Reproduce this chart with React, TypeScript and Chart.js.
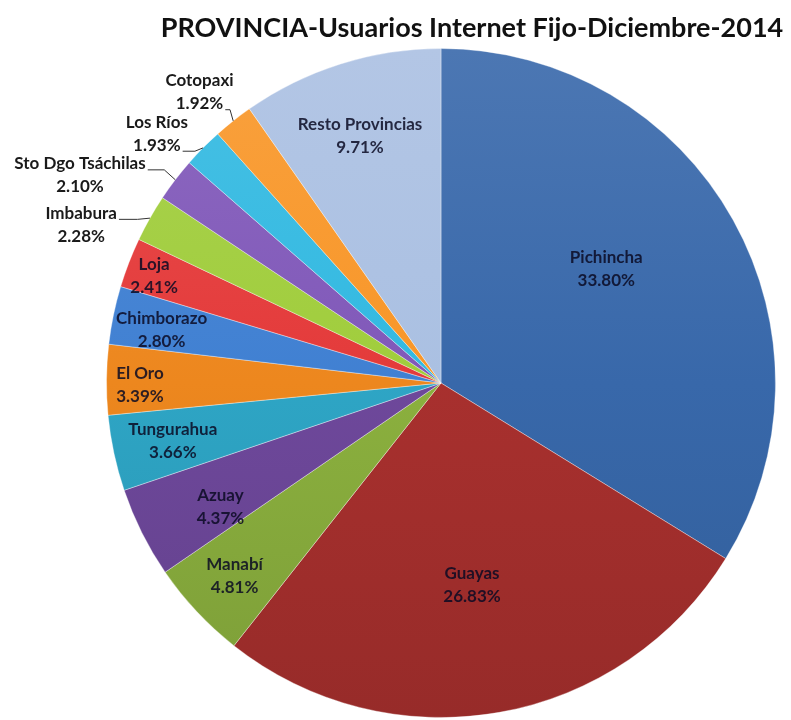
import React, { useEffect, useRef } from 'react';
import { Chart, registerables } from 'chart.js';

Chart.register(...registerables);

const TITLE = 'PROVINCIA-Usuarios Internet Fijo-Diciembre-2014';

const categories = [
  'Pichincha', 'Guayas', 'Manabí', 'Azuay', 'Tungurahua', 'El Oro', 'Chimborazo',
  'Loja', 'Imbabura', 'Sto Dgo Tsáchilas', 'Los Ríos', 'Cotopaxi', 'Resto Provincias',
];
const values = [33.8, 26.83, 4.81, 4.37, 3.66, 3.39, 2.8, 2.41, 2.28, 2.1, 1.93, 1.92, 9.71];

const colors = [
  '#3868AA', '#A8302E', '#8BB03E', '#6E489B', '#2EA5C5', '#ED871E', '#4080D2',
  '#E43A3A', '#A0CD3C', '#8058B9', '#32B9E1', '#F89628', '#AAC0E2',
];

// label placement (fraction of radius, angular shift in degrees, outside flag)
const labelRadius = [0.6, 0.61, 0.845, 0.756, 0.82, 0.9, 0.85, 0.915, 1.175, 1.245, 1.13, 1.13, 0.776];
const labelShift = [-5.4, 1.3, 0, -2.7, 0, -1, -1, -0.7, -5.8, -7.5, -3.4, -1.3, -0.7];
const labelOutside = [false, false, false, false, false, false, false, false, true, true, true, true, false];

function hexToRgb(h: string) {
  const n = parseInt(h.slice(1), 16);
  return [(n >> 16) & 255, (n >> 8) & 255, n & 255];
}
function shade(h: string, f: number) {
  const [r, g, b] = hexToRgb(h);
  const m = (c: number) => Math.round(f >= 0 ? c + (255 - c) * f : c * (1 + f));
  return `rgb(${m(r)},${m(g)},${m(b)})`;
}

const FONT_FAMILY = 'Lato, "Open Sans", sans-serif';
const LABEL_FONT = `bold 17px ${FONT_FAMILY}`;
const LINE_GAP = 23;

const labelPlugin = {
  id: 'sliceLabels',
  afterDatasetsDraw(chart: any) {
    const ctx = chart.ctx as CanvasRenderingContext2D;
    const meta = chart.getDatasetMeta(0);
    ctx.save();
    ctx.font = LABEL_FONT;
    ctx.textAlign = 'center';
    ctx.textBaseline = 'middle';
    meta.data.forEach((arc: any, i: number) => {
      const { x, y, startAngle, endAngle, outerRadius } = arc.getProps(
        ['x', 'y', 'startAngle', 'endAngle', 'outerRadius'], true);
      const mid = (startAngle + endAngle) / 2;
      const a = mid + (labelShift[i] * Math.PI) / 180;
      const cx = x + Math.cos(a) * outerRadius * labelRadius[i];
      const cy = y + Math.sin(a) * outerRadius * labelRadius[i];
      const lines = [categories[i], values[i].toFixed(2) + '%'];
      const ys = [cy - LINE_GAP / 2, cy + LINE_GAP / 2];
      if (labelOutside[i]) {
        const px = x + Math.cos(mid) * outerRadius;
        const py = y + Math.sin(mid) * outerRadius;
        let best = 0;
        let bestD = Infinity;
        const ends = lines.map((t, k) => {
          const w = ctx.measureText(t).width;
          const sx = cx + w / 2 + 2;
          const sy = ys[k] + 6;
          const d = Math.hypot(px - sx, py - sy);
          if (d < bestD) { bestD = d; best = k; }
          return [sx, sy];
        });
        const [sx, sy] = ends[best];
        const ex = sx + 0.6 * (px - sx);
        ctx.strokeStyle = '#333';
        ctx.lineWidth = 1;
        ctx.beginPath();
        ctx.moveTo(sx, sy);
        ctx.lineTo(ex, sy);
        ctx.lineTo(px, py);
        ctx.stroke();
        ctx.fillStyle = '#1a1a1a';
      } else {
        ctx.fillStyle = 'rgba(10,10,35,0.85)';
      }
      lines.forEach((t, k) => ctx.fillText(t, cx, ys[k]));
    });
    ctx.restore();
  },
};

const titlePlugin = {
  id: 'customTitle',
  afterDraw(chart: any) {
    const ctx = chart.ctx as CanvasRenderingContext2D;
    ctx.save();
    ctx.font = `bold 27px ${FONT_FAMILY}`;
    ctx.fillStyle = '#111';
    ctx.textAlign = 'center';
    ctx.textBaseline = 'alphabetic';
    ctx.fillText(TITLE, 472, 37);
    ctx.restore();
  },
};

export default function App() {
  const ref = useRef<HTMLCanvasElement | null>(null);
  useEffect(() => {
    if (!ref.current) return;
    const chart = new Chart(ref.current, {
      type: 'pie',
      data: {
        labels: categories,
        datasets: [
          {
            data: values,
            backgroundColor: (c: any) => {
              const area = c.chart.chartArea;
              const base = colors[c.dataIndex];
              if (!area) return base;
              const g = c.chart.ctx.createLinearGradient(0, area.top, 0, area.bottom);
              g.addColorStop(0, shade(base, 0.1));
              g.addColorStop(0.5, base);
              g.addColorStop(1, shade(base, -0.1));
              return g;
            },
            borderColor: 'rgba(255,255,255,0.35)',
            borderWidth: 1,
          },
        ],
      },
      options: {
        responsive: false,
        animation: false,
        layout: { padding: { left: 106, right: 15, top: 48, bottom: 2 } },
        plugins: {
          legend: { display: false },
          tooltip: { enabled: false },
          title: { display: false },
        },
      },
      plugins: [labelPlugin, titlePlugin],
    });
    return () => chart.destroy();
  }, []);
  return (
    <div style={{ position: 'absolute', left: 0, top: 0, width: 791, height: 720, background: '#fff' }}>
      <canvas ref={ref} width={791} height={720} style={{ display: 'block' }} />
    </div>
  );
}
